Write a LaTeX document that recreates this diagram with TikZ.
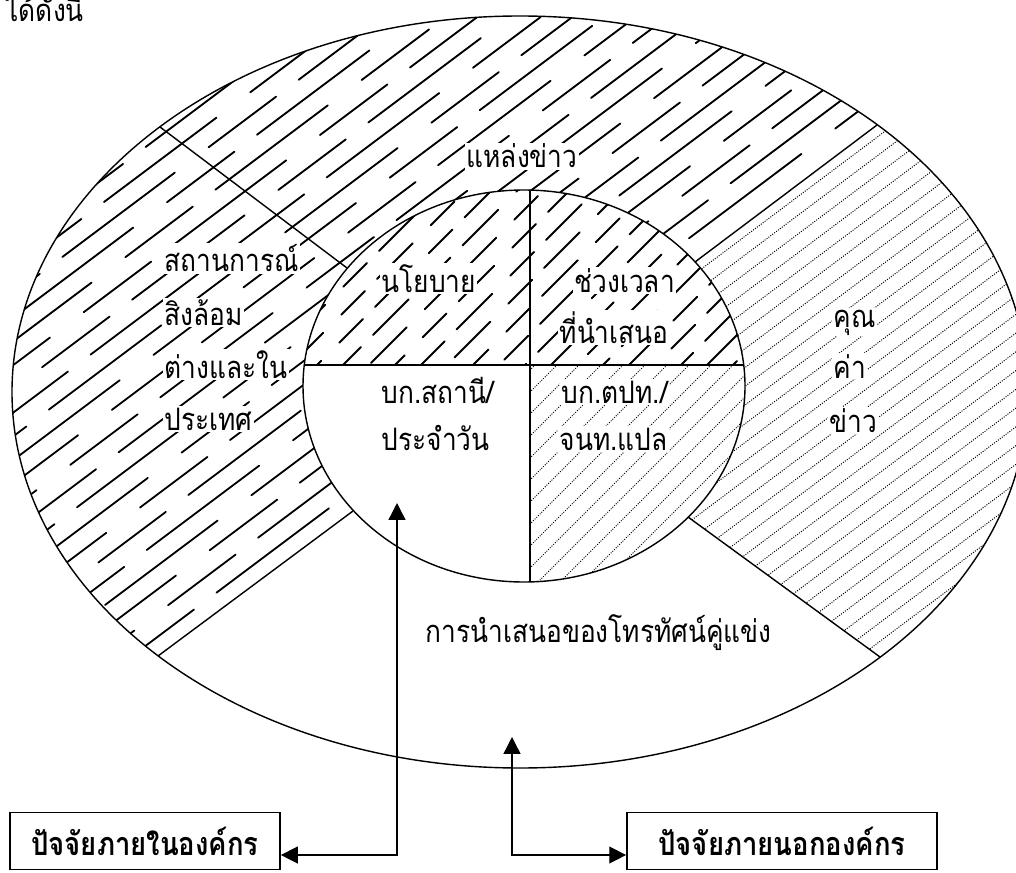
\documentclass[tikz,border=0pt]{standalone}
\usepackage{fontspec}
\usepackage{graphicx}
\setmainfont[Script=Thai]{Loma}
\newcommand{\squeeze}[1]{\scalebox{0.85}[1]{#1}}
\usetikzlibrary{arrows.meta,calc}

\begin{document}
\begin{tikzpicture}[x=0.025cm,y=-0.025cm,
    rim/.style={line width=1pt},
    solid_hatch/.style={line width=1.3pt,line cap=round},
    dot_hatch/.style={line width=0.7pt,dash pattern=on 0.7pt off 1pt},
    label_node/.style={fill=white,inner sep=1pt,font=\fontsize{22}{24}\selectfont},
    factor_box/.style={draw,line width=1.2pt,minimum height=1.42cm,inner sep=2pt,font=\fontsize{23}{25}\selectfont\bfseries},
    link/.style={line width=1pt,{Triangle[length=12pt,width=12pt]}-{Triangle[length=12pt,width=12pt]}}]
    \useasboundingbox (0,0) rectangle (1016,872);
    % ends of the dividers
    \coordinate (ul_in) at (347,268); \coordinate (ul_out) at (160,127);
    \coordinate (ur_in) at (695,262); \coordinate (ur_out) at (877,125);
    \coordinate (ll_in) at (353,511); \coordinate (ll_out) at (158,656);
    \coordinate (lr_in) at (688,517); \coordinate (lr_out) at (880,657);
    % hatching of the outer ring
    \begin{scope}
        \clip (520,392) ellipse [x radius=508, y radius=376];
        \begin{scope}
            \clip (ur_in) -- ($(ur_in)!3!(ur_out)$) -- (-300,-200) -- ($(ll_in)!3!(ll_out)$) -- (ll_in) -- cycle;
            \foreach \c in {186,205,...,622} {
                \pgfmathsetmacro\ph{mod(\c*13,210)}
                \draw[solid_hatch,dash pattern=on 100pt off 30pt on 60pt off 20pt,dash phase=\ph pt] (-400,{(\c+240)/0.8}) -- (1400,{(\c-840)/0.8});
            }
        \end{scope}
        \begin{scope}
            \clip (ur_in) -- ($(ur_in)!3!(ur_out)$) -- ($(lr_in)!3!(lr_out)$) -- (lr_in) -- cycle;
            \foreach \c in {636,651,...,1060}
                \draw[dot_hatch] (-400,{(\c+240)/0.8}) -- (1400,{(\c-840)/0.8});
        \end{scope}
    \end{scope}
    % hatching of the inner ellipse
    \fill[white] (524,386) ellipse [x radius=221, y radius=196];
    \begin{scope}
        \clip (524,386) ellipse [x radius=221, y radius=196];
        \begin{scope}
            \clip (300,180) rectangle (750,365);
            \foreach \c in {500,526,...,1110} {
                \pgfmathsetmacro\ph{mod(\c*7,90)}
                \draw[solid_hatch,dash pattern=on 36pt off 18pt on 24pt off 12pt,dash phase=\ph pt] (200,{\c-200}) -- (900,{\c-900});
            }
        \end{scope}
        \clip (530,365) rectangle (750,590);
        \foreach \c in {900,922,...,1330}
            \draw[dot_hatch] (200,{\c-200}) -- (900,{\c-900});
    \end{scope}
    % outlines
    \draw[rim] (520,392) ellipse [x radius=508, y radius=376];
    \draw[rim] (524,386) ellipse [x radius=221, y radius=196];
    \draw[rim] (ul_in) -- (ul_out) (ur_in) -- (ur_out) (ll_in) -- (ll_out) (lr_in) -- (lr_out);
    \draw[rim] (304,365) -- (744,365) (530,190) -- (530,582);
    % texts
    \node[label_node,anchor=base west,fill=none] (intro) at (4,22) {\squeeze{ได้ดังนี้}};
    \node[label_node,anchor=base] (source) at (522,168) {\squeeze{แหล่งข่าว}};
    \node[label_node,anchor=base west] (situation_a) at (163,272) {\squeeze{สถานการณ์}};
    \node[label_node,anchor=base west] (situation_b) at (163,325) {\squeeze{สิงล้อม}};
    \node[label_node,anchor=base west] (situation_c) at (163,378) {\squeeze{ต่างและใน}};
    \node[label_node,anchor=base west] (situation_d) at (163,430) {\squeeze{ประเทศ}};
    \node[label_node,anchor=base west] (policy) at (380,292) {\squeeze{นโยบาย}};
    \node[label_node,anchor=base west] (timing_a) at (573,292) {\squeeze{ช่วงเวลา}};
    \node[label_node,anchor=base west] (timing_b) at (558,343) {\squeeze{ที่นำเสนอ}};
    \node[label_node,anchor=base west] (station_a) at (380,403) {\squeeze{บก.สถานี/}};
    \node[label_node,anchor=base west] (station_b) at (380,450) {\squeeze{ประจำวัน}};
    \node[label_node,anchor=base west] (foreign_a) at (560,403) {\squeeze{บก.ตปท./}};
    \node[label_node,anchor=base west] (foreign_b) at (558,450) {\squeeze{จนท.แปล}};
    \node[label_node,anchor=base west] (value_a) at (832,327) {\squeeze{คุณ}};
    \node[label_node,anchor=base west] (value_b) at (832,378) {\squeeze{ค่า}};
    \node[label_node,anchor=base west] (value_c) at (828,432) {\squeeze{ข่าว}};
    \node[label_node,anchor=base west] (rival) at (424,642) {\squeeze{การนำเสนอของโทรทัศน์คู่แข่ง}};
    % factor boxes
    \node[factor_box,minimum width=6.75cm] (in_factor) at (145,841) {\squeeze{ปัจจัยภายในองค์กร}};
    \node[factor_box,minimum width=7.75cm] (out_factor) at (782,841) {\squeeze{ปัจจัยภายนอกองค์กร}};
    \coordinate (in_tip) at (397,503);
    \coordinate (out_tip) at (512,737);
    \draw[link] ([yshift=-0.35cm]in_factor.east) -| (in_tip);
    \draw[link] ([yshift=-0.35cm]out_factor.west) -| (out_tip);
\end{tikzpicture}
\end{document}
